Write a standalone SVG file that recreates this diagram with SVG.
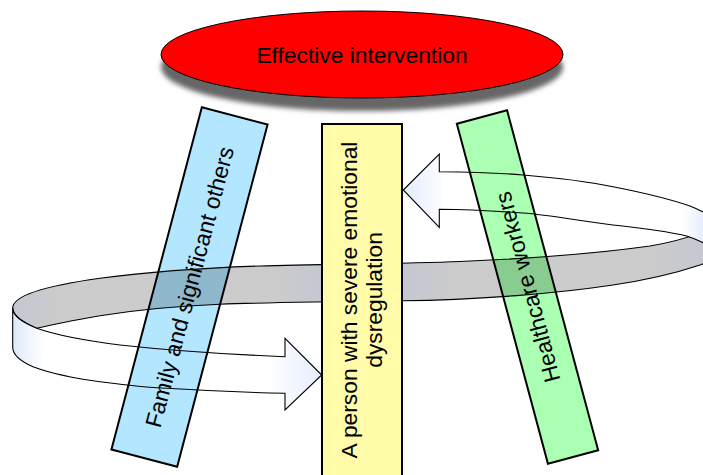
<svg xmlns="http://www.w3.org/2000/svg" width="703" height="475" viewBox="0 0 703 475">
<defs>
<style>
.t{font-family:"Liberation Sans",Arial,sans-serif;font-size:22.8px;fill:#000;text-anchor:middle}
.bar{stroke:#000;stroke-width:2}
.rib{stroke:#000;stroke-width:1.1;stroke-linejoin:miter}
</style>
<filter id="blur" x="-10%" y="-30%" width="120%" height="160%"><feGaussianBlur stdDeviation="2.5"/></filter>
<linearGradient id="greyG" gradientUnits="userSpaceOnUse" x1="12" y1="0" x2="720" y2="0">
<stop offset="0" stop-color="#14204F" stop-opacity="0.25"/>
<stop offset="0.07" stop-color="#000" stop-opacity="0.2"/>
<stop offset="0.37" stop-color="#000" stop-opacity="0.2"/>
<stop offset="0.438" stop-color="#14204F" stop-opacity="0.25"/>
<stop offset="0.551" stop-color="#14204F" stop-opacity="0.25"/>
<stop offset="0.63" stop-color="#000" stop-opacity="0.2"/>
<stop offset="0.89" stop-color="#000" stop-opacity="0.2"/>
<stop offset="1" stop-color="#14204F" stop-opacity="0.25"/>
</linearGradient>
<linearGradient id="lowG" gradientUnits="userSpaceOnUse" x1="12" y1="0" x2="322" y2="0">
<stop offset="0" stop-color="#DDE8FA" stop-opacity="1"/>
<stop offset="0.1" stop-color="#FFFFFF" stop-opacity="1"/>
<stop offset="0.22" stop-color="#FFFFFF" stop-opacity="0"/>
<stop offset="0.8" stop-color="#FFFFFF" stop-opacity="0"/>
<stop offset="0.88" stop-color="#F6F9FF" stop-opacity="1"/>
<stop offset="1" stop-color="#E4EEFD" stop-opacity="1"/>
</linearGradient>
<linearGradient id="upG" gradientUnits="userSpaceOnUse" x1="403" y1="0" x2="720" y2="0">
<stop offset="0" stop-color="#E2ECFC" stop-opacity="1"/>
<stop offset="0.1" stop-color="#F8FAFF" stop-opacity="1"/>
<stop offset="0.15" stop-color="#FFFFFF" stop-opacity="0"/>
<stop offset="0.48" stop-color="#FFFFFF" stop-opacity="0"/>
<stop offset="0.62" stop-color="#FFFFFF" stop-opacity="1"/>
<stop offset="0.88" stop-color="#FFFFFF" stop-opacity="1"/>
<stop offset="0.97" stop-color="#DDE8FA" stop-opacity="1"/>
</linearGradient>
</defs>

<g id="intervention">
<ellipse cx="362" cy="67" rx="201" ry="44" fill="#666" filter="url(#blur)"/>
<ellipse cx="362" cy="54.5" rx="201" ry="43.5" fill="#FF0000" stroke="#000" stroke-width="1"/>
<text class="t" x="362" y="62.5">Effective intervention</text>
</g>

<g id="family">
<rect class="bar" x="155.5" y="110" width="68" height="354" fill="#B3E6FF" transform="rotate(14.8 189.5 287)"/>
<text class="t" transform="translate(197.2,289) rotate(-75.2)" x="0" y="0">Family and significant others</text>
</g>

<g id="healthcare">
<rect class="bar" x="501.5" y="111" width="52" height="352" fill="#AAFFB3" transform="rotate(-15 527.5 287)"/>
<text class="t" transform="translate(535.2,285) rotate(-105)" x="0" y="0">Healthcare workers</text>
</g>

<g id="connectors">
<path class="rib" fill="url(#greyG)" d="M12.7,308 C12.7,296 45,286 100,278.3 C140,273 200,268 260,266 C320,264 400,264 460,261.5 C530,258.5 600,253 650,246 C680,241 705,232 722,224 L722,256 C712,261 705,263 700,265 C670,275 640,281 613,285 C560,293 480,300 402,300.7 C340,301.5 260,302.5 220,304.3 C180,306 130,311 100,315.7 C75,320 50,325 36.7,328.3 C22,322 12.7,316 12.7,308 Z"/>
<path class="rib" fill="url(#upG)" d="M403.3,190 L439.3,154 L439.3,171.7 C470,172 500,173 523,175 C560,178 590,182 613,186.7 C645,193 670,199 690,206 C705,212 715,218 722,226 L722,254 C710,246 700,240 686.7,236 C660,230 640,228 613,225 C580,221 550,215 523,213 C495,211 465,209.5 439.3,209.3 L439.3,227.3 Z"/>
<path class="rib" fill="url(#lowG)" d="M321.7,375 L285,338.3 L285,356.7 C230,354.5 170,350.5 120,345 C80,340 50,333 36.7,328.3 C22,322 12.7,316 12.7,308 L12.7,347 C12.7,356 22,362 33,366.7 C55,375 80,379 100,381.7 C130,385.5 150,387.5 166.7,388.3 C210,391 250,392.5 285,393.3 L285,410 Z"/>
</g>

<g id="person">
<rect class="bar" x="322" y="124" width="80" height="362" fill="#FFFBA8"/>
<text class="t" transform="translate(357,300) rotate(-90)" x="0" y="0">A person with severe emotional</text>
<text class="t" transform="translate(357,300) rotate(-90)" x="0" y="25">dysregulation</text>
</g>
</svg>
